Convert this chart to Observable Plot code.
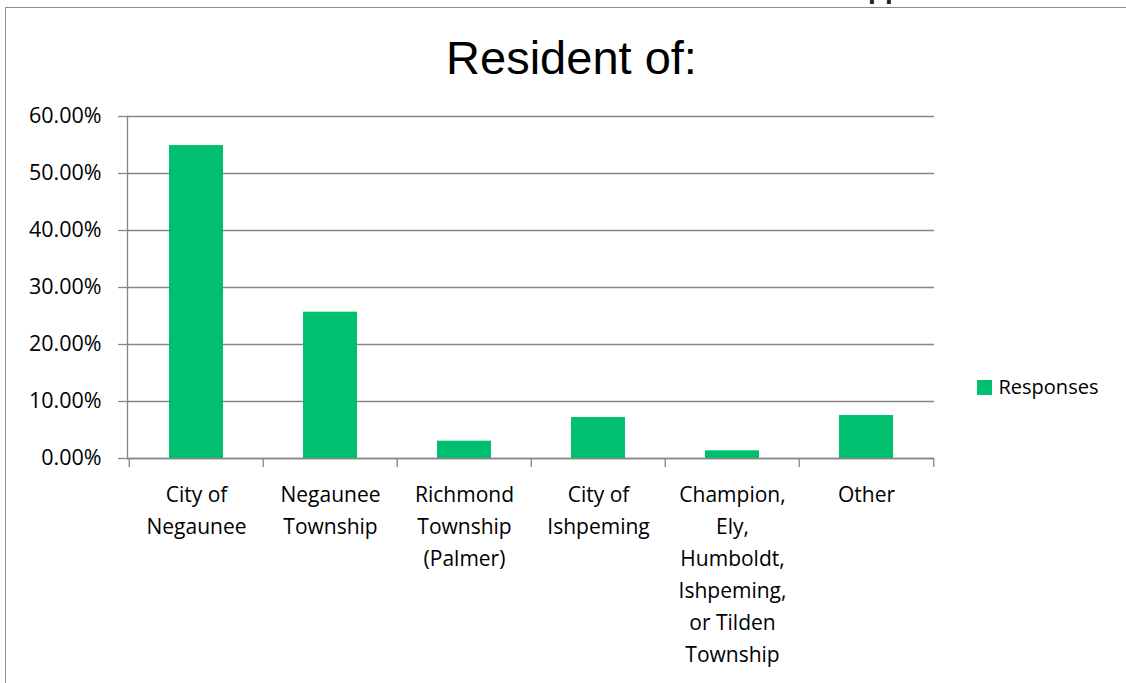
<!DOCTYPE html>
<html>
<head>
<meta charset="utf-8">
<script src="https://cdn.jsdelivr.net/npm/d3@7"></script>
<script src="https://cdn.jsdelivr.net/npm/@observablehq/plot@0.6"></script>
<style>
  html, body { margin: 0; padding: 0; background: #fff; }
  #wrap { position: relative; width: 1126px; height: 683px; overflow: hidden; }
  #border { position: absolute; left: 5px; top: 7px; width: 1121px; height: 676px;
            border-left: 1.5px solid #8c8c8c; border-top: 1.5px solid #8c8c8c; box-sizing: border-box; }
  #frag { position: absolute; left: 868px; top: -24.7px; font: bold 28px/28px "Liberation Sans", sans-serif; color: #222; }
  #chart { position: absolute; left: 0; top: 0; }
</style>
</head>
<body>
<div id="wrap">
  <div id="border"></div>
  <div id="frag">pp</div>
  <div id="chart"></div>
</div>
<script>
const title = "Resident of:";
const seriesName = "Responses";
const categories = [
  "City of Negaunee",
  "Negaunee Township",
  "Richmond Township (Palmer)",
  "City of Ishpeming",
  "Champion, Ely, Humboldt, Ishpeming, or Tilden Township",
  "Other"
];
const labels = [
  "City of\nNegaunee",
  "Negaunee\nTownship",
  "Richmond\nTownship\n(Palmer)",
  "City of\nIshpeming",
  "Champion,\nEly,\nHumboldt,\nIshpeming,\nor Tilden\nTownship",
  "Other"
];
const values = [0.549, 0.2567, 0.0304, 0.0719, 0.0135, 0.0754];
const yTicks = [0, 0.1, 0.2, 0.3, 0.4, 0.5, 0.6];

const data = categories.map((c, i) => ({cat: c, label: labels[i], value: values[i]}));

const W = 1126, H = 683;
const mL = 127, mR = 192, mT = 116, mB = 225;
const bw = (W - mL - mR) / categories.length;
const green = "#00BF6F";
const gray = "#868686";
const font = "'Open Sans', sans-serif";

const chart = Plot.plot({
  width: W,
  height: H,
  marginLeft: mL,
  marginRight: mR,
  marginTop: mT,
  marginBottom: mB,
  style: {fontFamily: font, background: "transparent", overflow: "visible"},
  x: {domain: categories, padding: 0, axis: null},
  y: {domain: [0, 0.6], axis: null},
  marks: [
    Plot.gridY(yTicks, {stroke: gray, strokeOpacity: 1, strokeWidth: 1.3}),
    Plot.barY(data, {x: "cat", y: "value", fill: green, insetLeft: 40, insetRight: 40}),
    Plot.frame({anchor: "left", stroke: gray, strokeWidth: 1.3}),
    Plot.ruleY([0], {stroke: gray, strokeWidth: 1.3}),
    Plot.axisY({ticks: yTicks, tickFormat: d => (d * 100).toFixed(2) + "%", tickSize: 9, tickPadding: 17,
                stroke: gray, strokeWidth: 1.3, fill: "black", fontSize: 21.5, fontFamily: font, label: null}),
    Plot.ruleX(categories, {x: d => d, y1: 0, y2: 0, insetBottom: -9, dx: -bw / 2, stroke: gray, strokeWidth: 1.3}),
    Plot.ruleX(categories.slice(-1), {x: d => d, y1: 0, y2: 0, insetBottom: -9, dx: bw / 2, stroke: gray, strokeWidth: 1.3}),
    Plot.text(data, {x: "cat", y: 0, text: "label", lineAnchor: "top", dy: 21, fontSize: 21, lineHeight: 1.52,
                     fill: "black", fontFamily: font}),
    Plot.text([title], {frameAnchor: "top", dx: 40.5, dy: -57.7, fontSize: 47, fontFamily: "'Liberation Sans', Arial, sans-serif",
                        fill: "black", lineAnchor: "middle"}),
    Plot.dot([seriesName], {frameAnchor: "right", dx: 50, dy: 100, symbol: "square", r: 8.46, fill: green, stroke: null}),
    Plot.text([seriesName], {frameAnchor: "right", dx: 64, dy: 100, textAnchor: "start", fontSize: 20, fontFamily: font, fill: "black"})
  ]
});
document.getElementById("chart").appendChild(chart);
</script>
</body>
</html>
